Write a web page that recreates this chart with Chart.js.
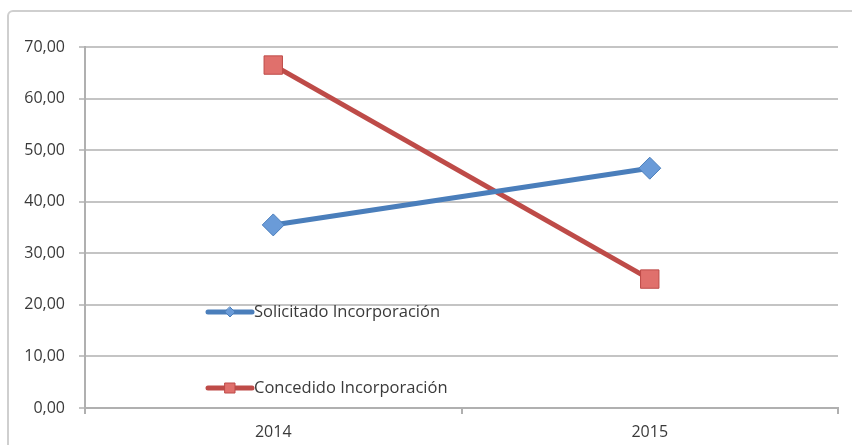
<!DOCTYPE html>
<html>
<head>
<meta charset="utf-8">
<script src="https://cdn.jsdelivr.net/npm/chart.js@4/dist/chart.umd.min.js"></script>
<style>
  body { margin: 0; background: #fff; }
  #frame {
    position: absolute; left: 7px; top: 10px; width: 900px; height: 500px;
    border: 2px solid #cfcfcf; border-radius: 6px; box-sizing: border-box;
  }
  #wrap { position: absolute; left: 0; top: 0; width: 852px; height: 445px; }
</style>
</head>
<body>
<div id="frame"></div>
<div id="wrap"><canvas id="chart"></canvas></div>
<script>
const years = ["2014", "2015"];
const solicitado = [35.5, 46.5];
const concedido = [66.5, 25.0];
const seriesNames = ["Solicitado Incorporación", "Concedido Incorporación"];

const blue = "#4a7ebb";
const red = "#be4b48";

// legend drawn inside the plot area, like the original
const innerLegend = {
  id: "innerLegend",
  afterDraw(chart) {
    const ctx = chart.ctx;
    const a = chart.chartArea;
    const items = [
      { y: a.top + 265, color: blue, fill: "#6a9bd8", shape: "diamond", text: seriesNames[0] },
      { y: a.top + 341, color: red, fill: "#e0706c", shape: "square", text: seriesNames[1] },
    ];
    items.forEach((it) => {
      const x0 = a.left + 123, x1 = a.left + 167;
      ctx.save();
      ctx.strokeStyle = it.color;
      ctx.lineWidth = 5;
      ctx.lineCap = "round";
      ctx.beginPath();
      ctx.moveTo(x0, it.y);
      ctx.lineTo(x1, it.y);
      ctx.stroke();
      const cx = (x0 + x1) / 2;
      ctx.fillStyle = it.fill;
      ctx.strokeStyle = it.color;
      ctx.lineWidth = 1;
      ctx.beginPath();
      if (it.shape === "diamond") {
        ctx.moveTo(cx, it.y - 5); ctx.lineTo(cx + 5, it.y);
        ctx.lineTo(cx, it.y + 5); ctx.lineTo(cx - 5, it.y);
        ctx.closePath();
      } else {
        ctx.rect(cx - 5, it.y - 5, 10, 10);
      }
      ctx.fill();
      ctx.stroke();
      ctx.fillStyle = "#3a3a3a";
      ctx.font = "16.5px 'Open Sans'";
      ctx.textBaseline = "middle";
      ctx.fillText(it.text, x1 + 2, it.y);
      ctx.restore();
    });
  },
};

new Chart(document.getElementById("chart"), {
  type: "line",
  data: {
    labels: years,
    datasets: [
      {
        label: seriesNames[0],
        data: solicitado,
        borderColor: blue,
        backgroundColor: "#6a9bd8",
        borderWidth: 5,
        pointStyle: "rectRot",
        pointRadius: 11,
        pointBorderWidth: 1,
        pointBorderColor: blue,
      },
      {
        label: seriesNames[1],
        data: concedido,
        borderColor: red,
        backgroundColor: "#e0706c",
        borderWidth: 5,
        pointStyle: "rect",
        pointRadius: 13,
        pointBorderWidth: 1,
        pointBorderColor: red,
      },
    ],
  },
  options: {
    responsive: true,
    maintainAspectRatio: false,
    animation: false,
    layout: { padding: { top: 47, right: 10, left: 0, bottom: 0 } },
    plugins: { legend: { display: false }, tooltip: { enabled: false } },
    scales: {
      x: {
        offset: true,
        grid: {
          offset: true,
          drawOnChartArea: false,
          color: "#b0b0b0",
          lineWidth: 2,
          tickLength: 6,
        },
        border: { color: "#b0b0b0", width: 2 },
        ticks: { color: "#3a3a3a", font: { family: "Open Sans", size: 16 }, padding: 9 },
        afterFit(scale) { scale.height = 37; },
      },
      y: {
        min: 0,
        max: 70,
        ticks: {
          stepSize: 10,
          color: "#3a3a3a",
          font: { family: "Open Sans", size: 16 },
          padding: 14,
          callback: (v) => v.toFixed(2).replace(".", ","),
        },
        grid: { color: "#c4c4c4", lineWidth: 2, tickLength: 6 },
        border: { color: "#b0b0b0", width: 2 },
        afterFit(scale) { scale.width = 85; },
      },
    },
  },
  plugins: [innerLegend],
});
</script>
</body>
</html>
